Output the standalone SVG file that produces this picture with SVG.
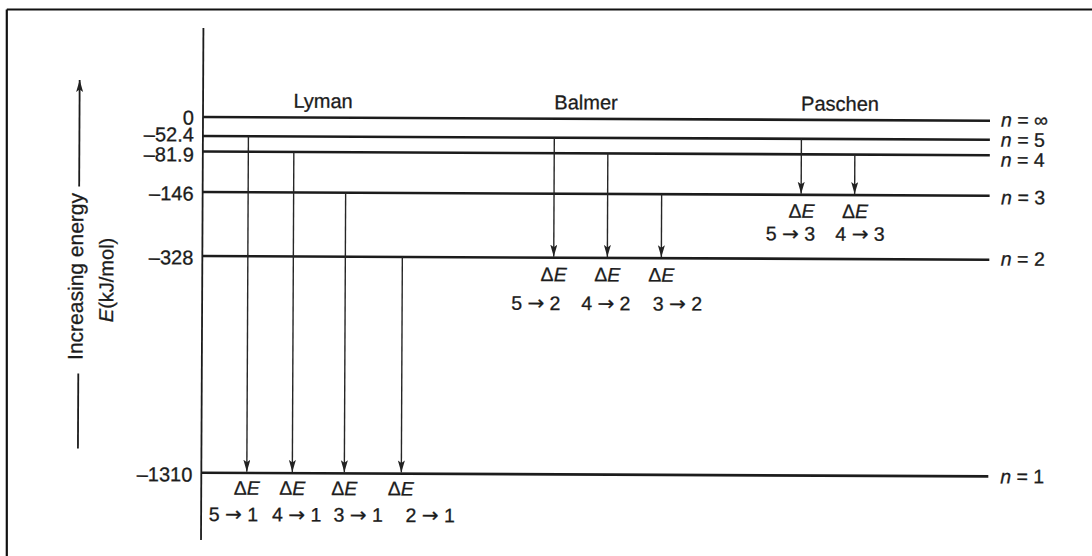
<svg xmlns="http://www.w3.org/2000/svg" width="1092" height="556" viewBox="0 0 1092 556">
  <style>
    text { font-family: "Liberation Sans", Arial, Helvetica, sans-serif; fill: #1c1c1c; stroke: #1c1c1c; stroke-width: 0.3; }
    .lvl { stroke: #1c1c1c; stroke-width: 2.6; fill: none; }
    .axis { stroke: #1c1c1c; stroke-width: 1.8; fill: none; }
    .tr { stroke: #262626; stroke-width: 1.4; fill: none; marker-end: url(#ah); }
    .frame { stroke: #111; stroke-width: 2.2; fill: none; }
    .val { font-size: 20px; text-anchor: end; }
    .series { font-size: 20px; text-anchor: middle; }
    .de { font-size: 19.5px; text-anchor: middle; }
    .step { font-size: 19.5px; text-anchor: middle; }
    .arr { font-family: "DejaVu Sans", sans-serif; font-size: 20px; }
    .nlab { font-size: 19.5px; }
    .it { font-style: italic; }
  </style>
  <defs>
    <marker id="ah" markerUnits="userSpaceOnUse" markerWidth="13" markerHeight="8" refX="12" refY="3.5" orient="auto">
      <path d="M0,0 L12,3.5 L0,7 L2.5,3.5 Z" fill="#222"/>
    </marker>
  </defs>

  <rect x="0" y="0" width="1092" height="556" fill="#ffffff"/>

  <!-- page border -->
  <g id="frame">
    <line class="frame" x1="6.8" y1="9.5" x2="1092" y2="9.5"/>
    <line class="frame" x1="6.8" y1="9.5" x2="6.8" y2="556"/>
  </g>

  <!-- the whole drawing sits slightly skewed on the page -->
  <g id="diagram" transform="rotate(0.27 203 117)">

    <!-- energy axis and its caption -->
    <g id="axis">
      <line class="axis" x1="203" y1="28" x2="203" y2="540"/>
      <line class="axis" x1="79.5" y1="449" x2="79.5" y2="374"/>
      <line class="axis" x1="79.5" y1="187" x2="79.5" y2="80.5" marker-end="url(#ah)"/>
      <text transform="translate(83.7 277) rotate(-90)" font-size="21" text-anchor="middle">Increasing energy</text>
      <text transform="translate(114 280.4) rotate(-90)" font-size="20" text-anchor="middle"><tspan class="it">E</tspan>(kJ/mol)</text>
    </g>

    <!-- energy levels -->
    <g id="level-inf">
      <line class="lvl" x1="203" y1="117" x2="990" y2="117"/>
      <text class="val" x="194" y="124.5">0</text>
      <text class="nlab" x="1001" y="122.8"><tspan class="it">n</tspan> = ∞</text>
    </g>
    <g id="level-5">
      <line class="lvl" x1="203" y1="136" x2="990" y2="136"/>
      <text class="val" x="194" y="141.5">–52.4</text>
      <text class="nlab" x="1001" y="142.8"><tspan class="it">n</tspan> = 5</text>
    </g>
    <g id="level-4">
      <line class="lvl" x1="203" y1="151.5" x2="990" y2="151.5"/>
      <text class="val" x="194" y="161.5">–81.9</text>
      <text class="nlab" x="1001" y="162.8"><tspan class="it">n</tspan> = 4</text>
    </g>
    <g id="level-3">
      <line class="lvl" x1="203" y1="192" x2="990" y2="192"/>
      <text class="val" x="194" y="200.5">–146</text>
      <text class="nlab" x="1001.5" y="200.4"><tspan class="it">n</tspan> = 3</text>
    </g>
    <g id="level-2">
      <line class="lvl" x1="203" y1="256" x2="990" y2="256"/>
      <text class="val" x="194" y="264.5">–328</text>
      <text class="nlab" x="1001.5" y="261.8"><tspan class="it">n</tspan> = 2</text>
    </g>
    <g id="level-1">
      <line class="lvl" x1="203" y1="472.7" x2="990" y2="472.7"/>
      <text class="val" x="194" y="481.5">–1310</text>
      <text class="nlab" x="1002" y="479.4"><tspan class="it">n</tspan> = 1</text>
    </g>

    <!-- series names -->
    <g id="series-lyman"><text class="series" x="323" y="107.3">Lyman</text></g>
    <g id="series-balmer"><text class="series" x="586" y="107.5">Balmer</text></g>
    <g id="series-paschen"><text class="series" x="840" y="107.7">Paschen</text></g>

    <!-- transitions -->
    <g id="connectors">
      <line class="tr" x1="248.5" y1="136" x2="248.5" y2="471.5"/>
      <line class="tr" x1="294" y1="151.5" x2="294" y2="471.5"/>
      <line class="tr" x1="346" y1="192" x2="346" y2="471.5"/>
      <line class="tr" x1="403" y1="256" x2="403" y2="471.5"/>
      <line class="tr" x1="554.4" y1="136" x2="554.4" y2="255"/>
      <line class="tr" x1="608" y1="151.5" x2="608" y2="255"/>
      <line class="tr" x1="662" y1="192" x2="662" y2="255"/>
      <line class="tr" x1="801.5" y1="136" x2="801.5" y2="191"/>
      <line class="tr" x1="855" y1="151.5" x2="855" y2="191"/>
    </g>

    <!-- Lyman transition labels -->
    <g id="lyman-labels">
      <text class="de" x="248.5" y="494.5">Δ<tspan class="it">E</tspan></text>
      <text class="de" x="294" y="494.5">Δ<tspan class="it">E</tspan></text>
      <text class="de" x="346" y="494.5">Δ<tspan class="it">E</tspan></text>
      <text class="de" x="402.5" y="494.5">Δ<tspan class="it">E</tspan></text>
      <text class="step" x="235.3" y="521">5 <tspan class="arr">→</tspan> 1</text>
      <text class="step" x="298.5" y="521">4 <tspan class="arr">→</tspan> 1</text>
      <text class="step" x="360" y="521">3 <tspan class="arr">→</tspan> 1</text>
      <text class="step" x="432" y="521">2 <tspan class="arr">→</tspan> 1</text>
    </g>

    <!-- Balmer transition labels -->
    <g id="balmer-labels">
      <text class="de" x="554.4" y="279.5">Δ<tspan class="it">E</tspan></text>
      <text class="de" x="608" y="279.5">Δ<tspan class="it">E</tspan></text>
      <text class="de" x="662" y="279.5">Δ<tspan class="it">E</tspan></text>
      <text class="step" x="536.7" y="308.3">5 <tspan class="arr">→</tspan> 2</text>
      <text class="step" x="606.7" y="308.3">4 <tspan class="arr">→</tspan> 2</text>
      <text class="step" x="678.4" y="308.3">3 <tspan class="arr">→</tspan> 2</text>
    </g>

    <!-- Paschen transition labels -->
    <g id="paschen-labels">
      <text class="de" x="802" y="215">Δ<tspan class="it">E</tspan></text>
      <text class="de" x="855.5" y="215">Δ<tspan class="it">E</tspan></text>
      <text class="step" x="791" y="237.7">5 <tspan class="arr">→</tspan> 3</text>
      <text class="step" x="860.6" y="237.7">4 <tspan class="arr">→</tspan> 3</text>
    </g>
  </g>
</svg>
